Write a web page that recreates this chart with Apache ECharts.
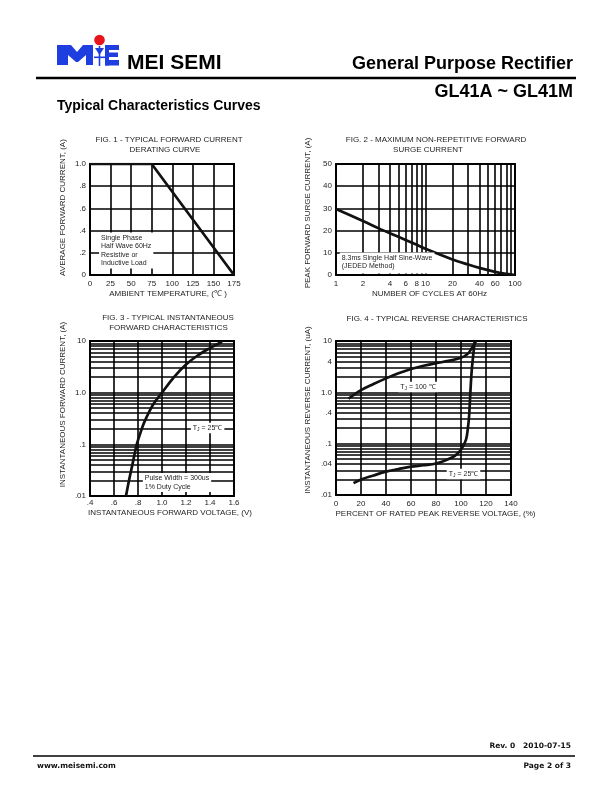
<!DOCTYPE html>
<html><head><meta charset="utf-8">
<script src="https://cdn.jsdelivr.net/npm/echarts@6/dist/echarts.min.js"></script>
<style>html,body{margin:0;padding:0;background:#fff}#c{width:612px;height:792px}</style>
</head><body><div id="c"></div>
<script>
// ---------- Fig. 1 : forward current derating ----------
const fig1Temp = [0, 75, 175];
const fig1Current = [1.0, 1.0, 0];
const fig1XValues = [0, 25, 50, 75, 100, 125, 150, 175];
const fig1XLabels = ['0', '25', '50', '75', '100', '125', '150', '175'];
const fig1YValues = [0, 0.2, 0.4, 0.6, 0.8, 1.0];
const fig1YLabels = ['0', '.2', '.4', '.6', '.8', '1.0'];

// ---------- Fig. 2 : surge current ----------
const fig2Cycles = [1, 2, 3, 4, 6, 8, 10, 20, 30, 40, 60, 80, 100];
const fig2Surge = [29.7, 24.3, 21.0, 18.8, 15.8, 13.6, 11.8, 7.0, 4.7, 3.2, 1.4, 0.5, 0];
const fig2XLabelValues = [1, 2, 4, 6, 8, 10, 20, 40, 60, 80, 100];
const fig2XLabels = ['1', '2', '4', '6', '8', '10', '20', '40', '60', '80', '100'];
const fig2XGrid = [1, 2, 3, 4, 5, 6, 7, 8, 9, 10, 20, 30, 40, 50, 60, 70, 80, 90, 100];
const fig2YValues = [0, 10, 20, 30, 40, 50];
const fig2YLabels = ['0', '10', '20', '30', '40', '50'];

// ---------- Fig. 3 : forward characteristics ----------
const fig3Voltage = [0.70, 0.725, 0.753, 0.79, 0.825, 0.85, 0.90, 0.94, 1.00, 1.10, 1.20, 1.30, 1.40, 1.50];
const fig3Current = [0.01, 0.02, 0.04, 0.1, 0.18, 0.26, 0.46, 0.66, 1.0, 2.0, 3.5, 5.3, 7.3, 9.7];
const fig3XValues = [0.4, 0.6, 0.8, 1.0, 1.2, 1.4, 1.6];
const fig3XLabels = ['.4', '.6', '.8', '1.0', '1.2', '1.4', '1.6'];
const fig3YValues = [0.01, 0.1, 1, 10];
const fig3YLabels = ['.01', '.1', '1.0', '10'];

// ---------- Fig. 4 : reverse characteristics ----------
const fig4Pct100 = [10, 20, 30, 40, 50, 60, 70, 80, 90, 100, 105, 108, 112];
const fig4Cur100 = [0.75, 1.1, 1.45, 1.87, 2.35, 2.85, 3.3, 3.7, 4.1, 4.7, 5.5, 6.8, 10];
const fig4Pct25 = [14, 20, 30, 40, 50, 60, 70, 80, 90, 95, 100, 104, 105.5, 106.5, 107.5, 108.5, 110, 111];
const fig4Cur25 = [0.017, 0.02, 0.024, 0.0285, 0.032, 0.0356, 0.038, 0.041, 0.05, 0.058, 0.076, 0.12, 0.2, 0.35, 1, 2.5, 6, 10];
const fig4XValues = [0, 20, 40, 60, 80, 100, 120, 140];
const fig4XLabels = ['0', '20', '40', '60', '80', '100', '120', '140'];
const fig4YValues = [0.01, 0.04, 0.1, 0.4, 1, 4, 10];
const fig4YLabels = ['.01', '.04', '.1', '.4', '1.0', '4', '10'];

// log grid lines shared by fig. 3 and 4
const logGridY = [0.01, 0.02, 0.03, 0.04, 0.05, 0.06, 0.07, 0.08, 0.09,
  0.1, 0.2, 0.3, 0.4, 0.5, 0.6, 0.7, 0.8, 0.9,
  1, 2, 3, 4, 5, 6, 7, 8, 9, 10];

// ---------- helpers ----------
const FONT = '"Liberation Sans", Arial, Helvetica, sans-serif';
const TXT = '#1e1e1e';
const GL = { color: '#000', width: 1.6 };
function zip(a, b) { return a.map((v, i) => [v, b[i]]); }
function fmtFrom(values, labels) {
  return function (v) {
    for (let i = 0; i < values.length; i++) {
      if (Math.abs(values[i] - v) <= Math.abs(values[i]) * 1e-6 + 1e-9) return labels[i];
    }
    return '';
  };
}
const labelStyle = { color: TXT, fontSize: 8, fontFamily: FONT, showMinLabel: true, showMaxLabel: true, hideOverlap: false };
const nameStyle = (pad) => ({ color: TXT, fontSize: 8, fontFamily: FONT, padding: pad });

function linAxis(o) {
  return {
    gridIndex: o.grid, type: 'value', min: o.min, max: o.max, interval: o.interval,
    axisLine: { show: false }, axisTick: { show: false },
    splitLine: { show: true, lineStyle: GL },
    axisLabel: Object.assign({ margin: o.margin, formatter: fmtFrom(o.values, o.labels) }, labelStyle),
    name: o.name, nameLocation: 'middle', nameGap: o.nameGap, nameTextStyle: nameStyle(o.pad)
  };
}
function logAxis(o) {
  return {
    gridIndex: o.grid, type: 'log', logBase: 10, min: o.min, max: o.max,
    axisLine: { show: false },
    axisTick: { show: false, customValues: o.grid2 },
    splitLine: { show: true, lineStyle: GL },
    axisLabel: Object.assign({ margin: o.margin, customValues: o.values, formatter: fmtFrom(o.values, o.labels) }, labelStyle),
    name: o.name, nameLocation: 'middle', nameGap: o.nameGap, nameTextStyle: nameStyle(o.pad)
  };
}
const curve = { color: '#111', width: 2.7 };
const annot = (coord, text, pos, extra) => ({
  coord: coord, symbolSize: 0,
  label: Object.assign({
    show: true, position: pos, distance: 0, formatter: text,
    color: TXT, fontSize: 7, fontFamily: FONT, lineHeight: 8.5,
    backgroundColor: '#fff', padding: [1, 2, 1, 2],
    rich: { s: { fontSize: 5, fontFamily: FONT, color: TXT, padding: [4, 0, 0, 0] } }
  }, extra || {})
});
const gridStyle = { show: true, borderColor: '#000', borderWidth: 1.9, backgroundColor: 'transparent' };

const option = {
  animation: false,
  backgroundColor: '#fff',
  grid: [
    Object.assign({ left: 90, top: 164, width: 144, height: 111 }, gridStyle),
    Object.assign({ left: 336, top: 164, width: 179, height: 111 }, gridStyle),
    Object.assign({ left: 90, top: 341, width: 144, height: 155 }, gridStyle),
    Object.assign({ left: 336, top: 341, width: 175, height: 154 }, gridStyle)
  ],
  xAxis: [
    linAxis({ grid: 0, min: 0, max: 175, interval: 25, values: fig1XValues, labels: fig1XLabels, margin: 5,
      name: 'AMBIENT TEMPERATURE, (\u2103 )', nameGap: 15, pad: [0, 0, 0, 12] }),
    logAxis({ grid: 1, min: 1, max: 100, grid2: fig2XGrid, values: fig2XLabelValues, labels: fig2XLabels, margin: 5,
      name: 'NUMBER OF CYCLES AT 60Hz', nameGap: 15, pad: [0, 0, 0, 8] }),
    linAxis({ grid: 2, min: 0.4, max: 1.6, interval: 0.2, values: fig3XValues, labels: fig3XLabels, margin: 3,
      name: 'INSTANTANEOUS FORWARD VOLTAGE, (V)', nameGap: 13, pad: [0, 0, 0, 16] }),
    linAxis({ grid: 3, min: 0, max: 140, interval: 20, values: fig4XValues, labels: fig4XLabels, margin: 5,
      name: 'PERCENT OF RATED PEAK REVERSE VOLTAGE, (%)', nameGap: 15, pad: [0, 0, 0, 24] })
  ],
  yAxis: [
    linAxis({ grid: 0, min: 0, max: 1, interval: 0.2, values: fig1YValues, labels: fig1YLabels, margin: 4,
      name: 'AVERAGE FORWARD CURRENT, (A)', nameGap: 23, pad: [0, 0, 0, 24] }),
    linAxis({ grid: 1, min: 0, max: 50, interval: 10, values: fig2YValues, labels: fig2YLabels, margin: 4,
      name: 'PEAK FORWARD SURGE CURRENT, (A)', nameGap: 24, pad: [0, 0, 0, 13] }),
    logAxis({ grid: 2, min: 0.01, max: 10, grid2: logGridY, values: fig3YValues, labels: fig3YLabels, margin: 4,
      name: 'INSTANTANEOUS FORWARD CURRENT, (A)', nameGap: 23, pad: [0, 0, 0, 28] }),
    logAxis({ grid: 3, min: 0.01, max: 10, grid2: logGridY, values: fig4YValues, labels: fig4YLabels, margin: 4,
      name: 'INSTANTANEOUS REVERSE CURRENT, (uA)', nameGap: 24, pad: [0, 0, 0, 16] })
  ],
  series: [
    { type: 'line', xAxisIndex: 0, yAxisIndex: 0, data: zip(fig1Temp, fig1Current), symbol: 'none', lineStyle: curve,
      markPoint: { silent: true, data: [annot([11, 0.22], 'Single Phase\nHalf Wave 60Hz\nResistive or\nInductive Load', 'right')] } },
    { type: 'line', xAxisIndex: 1, yAxisIndex: 1, data: zip(fig2Cycles, fig2Surge), symbol: 'none', smooth: 0.35, lineStyle: curve,
      markPoint: { silent: true, data: [annot([1.1, 5.4], '8.3ms Single Half Sine-Wave\n(JEDED Method)', 'right', { padding: [1, 2, 3, 2] })] } },
    { type: 'line', xAxisIndex: 2, yAxisIndex: 2, data: zip(fig3Voltage, fig3Current), symbol: 'none', smooth: 0.35, lineStyle: curve,
      markPoint: { silent: true, data: [
        annot([1.38, 0.207], 'T{s|J} = 25\u2103', 'inside'),
        annot([0.84, 0.0183], 'Pulse Width = 300us\n1% Duty Cycle', 'right')
      ] } },
    { type: 'line', xAxisIndex: 3, yAxisIndex: 3, data: zip(fig4Pct100, fig4Cur100), symbol: 'none', smooth: 0.35, lineStyle: curve,
      markPoint: { silent: true, data: [annot([65.6, 1.27], 'T{s|J} = 100 \u2103', 'inside')] } },
    { type: 'line', xAxisIndex: 3, yAxisIndex: 3, data: zip(fig4Pct25, fig4Cur25), symbol: 'none', smooth: 0.35, lineStyle: curve,
      markPoint: { silent: true, data: [annot([102, 0.0257], 'T{s|J} = 25\u2103', 'inside')] } }
  ],
  graphic: [
    // logo
    { type: 'polygon', shape: { points: [[57,45],[71,45],[77,52],[83,45],[93,45],[93,65],[86,65],[86,55],[78,62],[76,62],[68,55],[68,65],[57,65]] }, style: { fill: '#1f3ee0' } },
    { type: 'circle', shape: { cx: 99.5, cy: 40, r: 5.3 }, style: { fill: '#e8141b' } },
    { type: 'rect', shape: { x: 98.7, y: 46, width: 1.6, height: 20 }, style: { fill: '#1f3ee0' } },
    { type: 'polygon', shape: { points: [[95,48],[104,48],[99.5,55]] }, style: { fill: '#1f3ee0' } },
    { type: 'rect', shape: { x: 94, y: 56.5, width: 11, height: 1.6 }, style: { fill: '#1f3ee0' } },
    { type: 'rect', shape: { x: 105, y: 45, width: 14, height: 5 }, style: { fill: '#1f3ee0' } },
    { type: 'rect', shape: { x: 107, y: 52.5, width: 11, height: 4.5 }, style: { fill: '#1f3ee0' } },
    { type: 'rect', shape: { x: 105, y: 60, width: 14, height: 5.5 }, style: { fill: '#1f3ee0' } },
    { type: 'rect', shape: { x: 105, y: 45, width: 4, height: 20.5 }, style: { fill: '#1f3ee0' } },
    { type: 'text', x: 127, y: 63.6, style: { text: 'MEI SEMI', font: 'bold 21px "Liberation Sans", Arial, sans-serif', fill: '#000', textVerticalAlign: 'middle' } },
    // header
    { type: 'text', x: 573, y: 63.7, style: { text: 'General Purpose Rectifier', font: 'bold 18px "Liberation Sans", Arial, sans-serif', fill: '#000', textAlign: 'right', textVerticalAlign: 'middle' } },
    { type: 'line', shape: { x1: 36, y1: 78, x2: 576, y2: 78 }, style: { stroke: '#000', lineWidth: 2.6 } },
    { type: 'text', x: 573, y: 92, style: { text: 'GL41A ~ GL41M', font: 'bold 18px "Liberation Sans", Arial, sans-serif', fill: '#000', textAlign: 'right', textVerticalAlign: 'middle' } },
    { type: 'text', x: 57, y: 106, style: { text: 'Typical Characteristics Curves', font: 'bold 14px "Liberation Sans", Arial, sans-serif', fill: '#000', textVerticalAlign: 'middle' } },
    // chart titles
    { type: 'text', x: 169, y: 140, style: { text: 'FIG. 1 - TYPICAL FORWARD CURRENT', font: '8px "Liberation Sans", Arial, sans-serif', fill: TXT, textAlign: 'center', textVerticalAlign: 'middle' } },
    { type: 'text', x: 165, y: 150, style: { text: 'DERATING CURVE', font: '8px "Liberation Sans", Arial, sans-serif', fill: TXT, textAlign: 'center', textVerticalAlign: 'middle' } },
    { type: 'text', x: 436, y: 139.5, style: { text: 'FIG. 2 - MAXIMUM NON-REPETITIVE FORWARD', font: '8px "Liberation Sans", Arial, sans-serif', fill: TXT, textAlign: 'center', textVerticalAlign: 'middle' } },
    { type: 'text', x: 428, y: 150, style: { text: 'SURGE CURRENT', font: '8px "Liberation Sans", Arial, sans-serif', fill: TXT, textAlign: 'center', textVerticalAlign: 'middle' } },
    { type: 'text', x: 168, y: 318, style: { text: 'FIG. 3 - TYPICAL INSTANTANEOUS', font: '8px "Liberation Sans", Arial, sans-serif', fill: TXT, textAlign: 'center', textVerticalAlign: 'middle' } },
    { type: 'text', x: 168.5, y: 328, style: { text: 'FORWARD CHARACTERISTICS', font: '8px "Liberation Sans", Arial, sans-serif', fill: TXT, textAlign: 'center', textVerticalAlign: 'middle' } },
    { type: 'text', x: 437, y: 319, style: { text: 'FIG. 4 - TYPICAL REVERSE CHARACTERISTICS', font: '8px "Liberation Sans", Arial, sans-serif', fill: TXT, textAlign: 'center', textVerticalAlign: 'middle' } },
    // footer
    { type: 'text', x: 571, y: 746.5, style: { text: 'Rev. 0   2010-07-15', font: 'bold 7.5px "DejaVu Sans", Verdana, sans-serif', fill: '#111', textAlign: 'right', textVerticalAlign: 'middle' } },
    { type: 'line', shape: { x1: 33, y1: 756, x2: 575, y2: 756 }, style: { stroke: '#000', lineWidth: 1.5 } },
    { type: 'text', x: 37, y: 766.5, style: { text: 'www.meisemi.com', font: 'bold 7.5px "DejaVu Sans", Verdana, sans-serif', fill: '#111', textVerticalAlign: 'middle' } },
    { type: 'text', x: 571, y: 766.5, style: { text: 'Page 2 of 3', font: 'bold 7.5px "DejaVu Sans", Verdana, sans-serif', fill: '#111', textAlign: 'right', textVerticalAlign: 'middle' } }
  ]
};
const chart = echarts.init(document.getElementById('c'), null, { renderer: 'canvas' });
chart.setOption(option);
</script>
</body></html>
